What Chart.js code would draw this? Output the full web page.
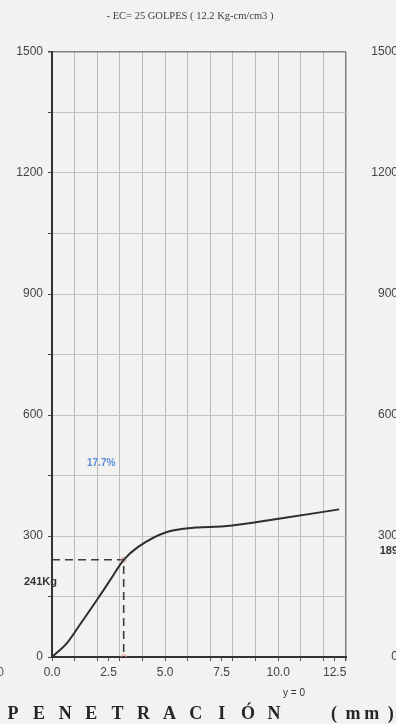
<!DOCTYPE html>
<html>
<head>
<meta charset="utf-8">
<script src="https://cdn.jsdelivr.net/npm/chart.js@4.4.1/dist/chart.umd.min.js"></script>
<style>
  html, body { margin: 0; padding: 0; background: #f2f2f1; overflow: hidden; }
  #wrap { width: 396px; height: 724px; overflow: hidden; position: relative; }
  #c { display: block; }
</style>
</head>
<body>
<div id="wrap"><canvas id="c" width="398" height="724" style="width:398px;height:724px"></canvas></div>
<script>
// Penetración (mm) vs carga (kg) – ensayo CBR, 25 golpes
const penetracion = [0, 0.64, 1.27, 1.91, 2.54, 3.17, 3.81, 5.08, 6.35, 7.62, 10.16, 12.70];
const carga       = [0, 33, 83, 135, 188, 241, 273, 310, 321, 324, 344, 366];

// Lectura a la penetración de referencia
const penRef = 3.17;
const cargaRef = 241;
const cbrTexto = '17.7%';

// Escala de carga
const cargaMax = 1500;
const pasoEtiqueta = 300;
const pasoGrilla = 150;
const penMax = 13;
const pasoPen = 2.5;

// Marcas del eje vertical derecho
const marcasDerecha = [0, 300, 600, 900, 1200, 1500];
const valorDerecha = '189';

const titulo = '- EC= 25 GOLPES ( 12.2 Kg-cm/cm3 )';
const ejeX = 'PENETRACIÓN';
const unidad = '(mm)';

const curva = penetracion.map((x, i) => ({ x, y: carga[i] }));
const guia = [{ x: 0, y: cargaRef }, { x: penRef, y: cargaRef }, { x: penRef, y: 0 }];

const textos = {
  id: 'textos',
  afterDraw(chart) {
    const ctx = chart.ctx;
    const ys = chart.scales.y;
    ctx.save();
    // título
    ctx.fillStyle = '#3c3c3c';
    ctx.font = '10.5px "Liberation Serif", serif';
    ctx.textAlign = 'center';
    ctx.textBaseline = 'middle';
    ctx.fillText(titulo, 190, 16);

    // valor de carga leído
    ctx.fillStyle = '#333';
    ctx.font = 'bold 11px "Liberation Sans", Arial, sans-serif';
    ctx.textAlign = 'left';
    ctx.fillText(cargaRef + 'Kg', 24, ys.getPixelForValue(cargaRef) + 22);

    // CBR
    ctx.fillStyle = '#5a8cd6';
    ctx.font = 'bold 10px "Liberation Sans", Arial, sans-serif';
    ctx.fillText(cbrTexto, 87, 463);

    // valor del eje derecho
    ctx.fillStyle = '#333';
    ctx.font = 'bold 11px "Liberation Sans", Arial, sans-serif';
    ctx.textAlign = 'right';
    ctx.fillText(valorDerecha, 398, ys.getPixelForValue(300) + 15);

    // fragmento de etiqueta a la izquierda
    ctx.fillStyle = '#555';
    ctx.font = '12px "Liberation Sans", Arial, sans-serif';
    ctx.fillText('0', 4, 673);

    // y = 0
    ctx.fillStyle = '#333';
    ctx.font = '10px "Liberation Sans", Arial, sans-serif';
    ctx.textAlign = 'center';
    ctx.fillText('y = 0', 294, 693);

    // título del eje X, letras espaciadas
    ctx.fillStyle = '#262626';
    ctx.font = 'bold 18px "Liberation Serif", serif';
    ctx.textBaseline = 'middle';
    [...ejeX].forEach((ch, i) => ctx.fillText(ch, 13 + i * 26.1, 714));
    [...unidad].forEach((ch, i) => ctx.fillText(ch, 334 + i * 18.9, 714));
    ctx.restore();
  }
};

new Chart(document.getElementById('c'), {
  type: 'scatter',
  data: {
    datasets: [
      {
        data: guia,
        showLine: true,
        borderColor: '#3c3c3c',
        borderWidth: 1.6,
        borderDash: [8, 5],
        pointRadius: [0, 2.5, 2.5],
        pointBorderColor: '#ef9a9a',
        pointBackgroundColor: 'rgba(0,0,0,0)',
        pointBorderWidth: 1,
        order: 2
      },
      {
        data: curva,
        showLine: true,
        borderColor: '#2e2e2e',
        borderWidth: 2,
        cubicInterpolationMode: 'monotone',
        pointRadius: 0,
        order: 1
      }
    ]
  },
  options: {
    responsive: false,
    animation: false,
    layout: { padding: { top: 52, left: 0, right: 0, bottom: 0 } },
    plugins: { legend: { display: false }, tooltip: { enabled: false }, title: { display: false } },
    scales: {
      x: {
        type: 'linear',
        min: 0,
        max: penMax,
        afterFit: s => { s.height = 67; },
        afterBuildTicks: s => {
          const v = [];
          for (let i = 0; i <= penMax; i++) v.push(i);
          for (let t = pasoPen; t <= penMax; t += 2 * pasoPen) v.push(t);
          s.ticks = v.sort((a, b) => a - b).map(value => ({ value }));
        },
        ticks: {
          autoSkip: false,
          maxRotation: 0,
          padding: 4,
          color: '#444',
          font: { size: 12, family: '"Liberation Sans", Arial, sans-serif' },
          callback: v => (Math.abs(v / pasoPen - Math.round(v / pasoPen)) < 1e-9 ? v.toFixed(1) : '')
        },
        grid: {
          color: c => {
            const v = c.tick ? c.tick.value : 0;
            if (v === penMax) return '#808080';
            return Number.isInteger(v) ? '#bababa' : 'rgba(0,0,0,0)';
          },
          lineWidth: c => (c.tick && c.tick.value === penMax ? 1.5 : 1),
          tickColor: '#555',
          tickLength: 4
        },
        border: { display: true, color: '#333', width: 2 }
      },
      y: {
        min: 0,
        max: cargaMax,
        afterFit: s => { s.width = 52; },
        ticks: {
          stepSize: pasoGrilla,
          padding: 5,
          color: '#444',
          font: { size: 12, family: '"Liberation Sans", Arial, sans-serif' },
          callback: v => (v % pasoEtiqueta === 0 ? String(v) : '')
        },
        grid: {
          color: c => (c.tick && c.tick.value === cargaMax ? '#808080' : '#c2c2c2'),
          lineWidth: c => (c.tick && c.tick.value === cargaMax ? 1.5 : 1),
          tickColor: '#444',
          tickLength: 4
        },
        border: { display: true, color: '#333', width: 2 }
      },
      y2: {
        position: 'right',
        min: 0,
        max: cargaMax,
        afterFit: s => { s.width = 52; },
        afterBuildTicks: s => { s.ticks = marcasDerecha.map(value => ({ value })); },
        ticks: {
          crossAlign: 'far',
          color: '#444',
          font: { size: 12, family: '"Liberation Sans", Arial, sans-serif' },
          callback: v => String(v)
        },
        grid: { display: false, drawTicks: false },
        border: { display: false }
      }
    }
  },
  plugins: [textos]
});
</script>
</body>
</html>
